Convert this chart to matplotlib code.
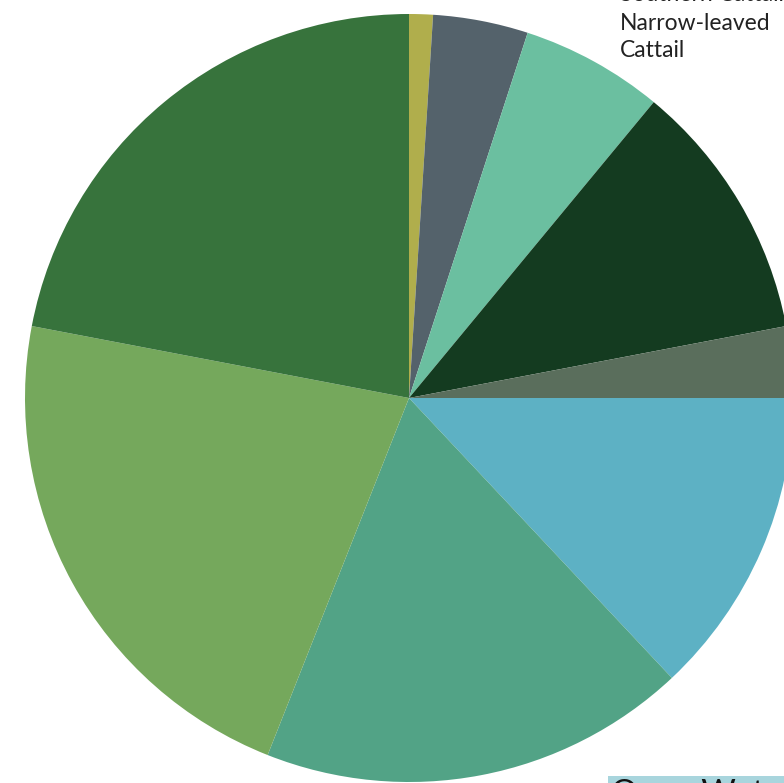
import matplotlib
matplotlib.use('Agg')
import matplotlib.pyplot as plt

# slice shares (clockwise from 12 o'clock)
shares = [1, 4, 6, 11, 3, 13, 18, 22, 22]
colors = ['#b0ae4c', '#54626b', '#6bbfa0', '#143b20', '#5a6e5c',
          '#5db1c4', '#52a386', '#75a85c', '#37733c']

plt.rcParams['font.family'] = ['Lato', 'DejaVu Sans']

fig = plt.figure(figsize=(7.84, 7.83), dpi=100)
ax = fig.add_axes([0, 0, 1, 1])

ax.pie(shares, colors=colors, startangle=90, counterclock=False,
       center=(409, 385), radius=384, frame=True)
ax.set_xlim(0, 784)
ax.set_ylim(0, 783)
ax.set_aspect('equal')
ax.axis('off')

# labels cut by the figure edge, as in the source
ax.text(620, 782, 'Southern Cattail', fontsize=16.5, color='#222222',
        va='baseline', ha='left')
ax.text(620, 753, 'Narrow-leaved', fontsize=16.5, color='#222222',
        va='baseline', ha='left')
ax.text(620, 726, 'Cattail', fontsize=16.5, color='#222222',
        va='baseline', ha='left')
ax.text(611, -20, 'Open Water', fontsize=24, color='#111111',
        va='baseline', ha='left',
        bbox=dict(boxstyle='square,pad=0.1', fc='#a8d5dd', ec='none'))

fig.savefig('out.png', dpi=100)
